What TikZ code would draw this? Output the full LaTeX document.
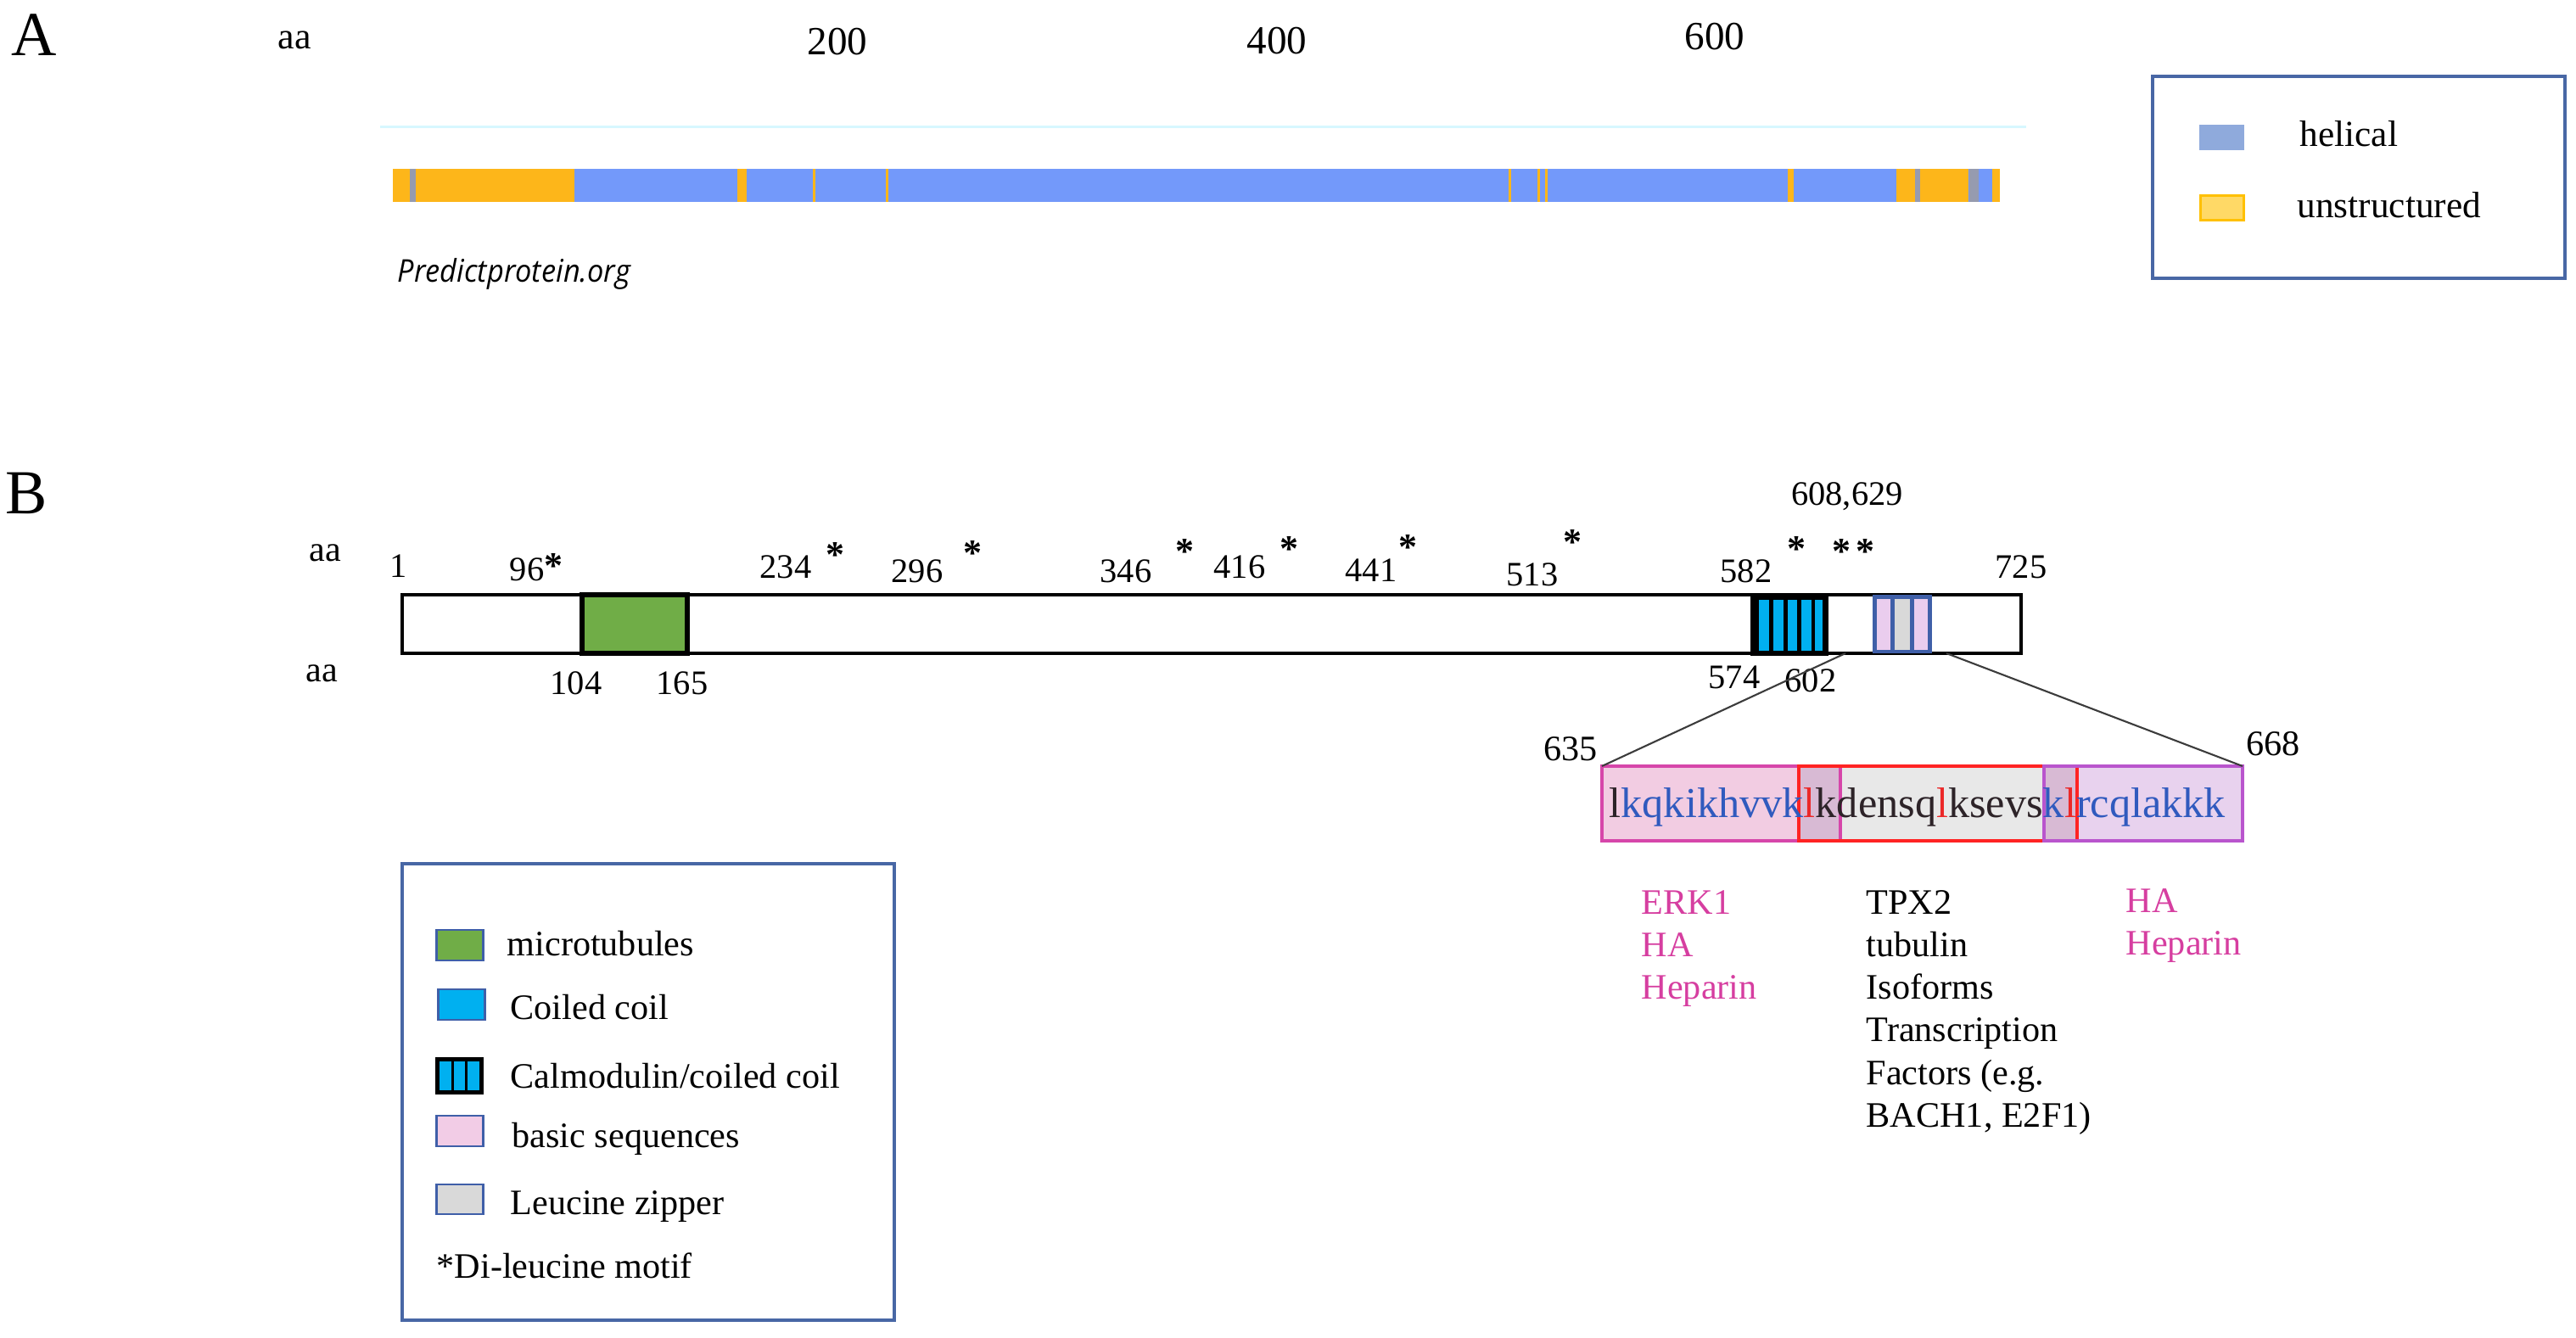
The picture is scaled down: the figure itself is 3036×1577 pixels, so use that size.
\documentclass[tikz,border=0pt]{standalone}
\usepackage{fontspec}
\setmainfont{Liberation Serif}
\newfontfamily\osans{Open Sans}
\definecolor{helblue}{RGB}{115,153,250}
\definecolor{unorange}{RGB}{253,182,26}
\definecolor{thingray}{RGB}{150,155,175}
\definecolor{legblue}{RGB}{72,103,165}
\definecolor{swhel}{RGB}{143,170,220}
\definecolor{swunfill}{RGB}{255,217,102}
\definecolor{swunborder}{RGB}{255,192,0}
\definecolor{mtgreen}{RGB}{112,173,71}
\definecolor{ccblue}{RGB}{0,176,240}
\definecolor{barpink}{RGB}{234,205,238}
\definecolor{legpink}{RGB}{242,204,230}
\definecolor{lzgray}{RGB}{217,217,217}
\definecolor{boxblue}{RGB}{63,95,168}
\definecolor{seqpink}{RGB}{242,204,226}
\definecolor{seqmag}{RGB}{214,70,170}
\definecolor{seqgray}{RGB}{232,232,232}
\definecolor{seqred}{RGB}{255,35,35}
\definecolor{seqlav}{RGB}{232,210,238}
\definecolor{seqpurp}{RGB}{185,85,205}
\definecolor{seqover}{RGB}{216,186,212}
\definecolor{seqblue}{RGB}{48,90,190}
\definecolor{seqredtxt}{RGB}{235,40,40}
\definecolor{seqdark}{RGB}{45,35,40}
\definecolor{labmag}{RGB}{214,62,160}
\definecolor{cyanline}{RGB}{215,247,255}
\definecolor{conn}{RGB}{60,60,60}
\begin{document}
\begin{tikzpicture}[x=0.01cm,y=-0.01cm,
  lab/.style={font=\fontsize{12}{14}\selectfont, inner sep=0pt},
  num/.style={font=\fontsize{11.5}{13}\selectfont, inner sep=0pt},
  axnum/.style={font=\fontsize{13.4}{15}\selectfont, inner sep=0pt},
  panel/.style={font=\fontsize{21}{25}\selectfont, inner sep=0pt},
  starlab/.style={font=\fontsize{12.5}{14}\selectfont\bfseries, inner sep=0pt, anchor=base},
  magtxt/.style={lab, text=labmag, anchor=base west},
  blktxt/.style={lab, anchor=base west},
  legframe/.style={draw=legblue, line width=1pt, fill=white},
  swatch/.style={draw=boxblue, line width=0.85pt},
  conline/.style={draw=conn, line width=0.6pt}]
\useasboundingbox (0,0) rectangle (3036,1577);

% ================= Panel A =================
\node[panel] (labA) at (40,41) {A};
\node[lab, font=\fontsize{12.5}{14}\selectfont] (aaA) at (347,47) {aa};
\node[axnum] (t200) at (987,49) {200};
\node[axnum] (t400) at (1505,48) {400};
\node[axnum] (t600) at (2021,43) {600};
\draw[cyanline, line width=0.85pt] (448,150) -- (2388,150);
% structure bar
\fill[helblue] (463,199) rectangle (2357,238);
\foreach \a/\b in {463/677, 869/880, 958/960.5, 1044/1046.5, 1778/1780.5, 1812/1814.5, 1821/1823.5, 2107/2114, 2235/2320, 2348/2357}
  \fill[unorange] (\a,199) rectangle (\b,238);
\foreach \a/\b in {483/490, 2257/2263, 2321/2332}
  \fill[thingray] (\a,199) rectangle (\b,238);
\node[anchor=base west, inner sep=0pt] (pp) at (468,333)
  {\scalebox{0.93}[1]{\osans\itshape\fontsize{10.5}{12}\selectfont Predictprotein.org}};
% legend A
\draw[legframe] (2537,90) rectangle (3023,328);
\fill[swhel] (2592,147) rectangle (2645,177);
\draw[fill=swunfill, draw=swunborder, line width=0.85pt] (2593,231) rectangle (2644,260);
\node[lab, anchor=base west, font=\fontsize{12.3}{14}\selectfont] (helical) at (2710,173) {helical};
\node[lab, anchor=base west, font=\fontsize{12.3}{14}\selectfont] (unstr) at (2707,257) {unstructured};

% ================= Panel B =================
\node[panel] (labB) at (31,581) {B};
\node[lab] (aaB1) at (383,652) {aa};
\node[lab] (aaB2) at (379,794) {aa};
% main bar
\draw[fill=white, line width=1.25pt] (474,701) rectangle (2382,770);
\draw[fill=mtgreen, line width=1.7pt] (686,701) rectangle (810,770);
% calmodulin / coiled coil
\fill[black] (2063,699) rectangle (2155,773);
\foreach \a/\b in {2073/2085, 2090/2102, 2107/2118, 2123/2135, 2139/2148}
  \fill[ccblue] (\a,707) rectangle (\b,767);
% basic / leucine zipper
\fill[boxblue] (2207,701) rectangle (2277,770);
\fill[barpink] (2212,706) rectangle (2228,766);
\fill[lzgray] (2233,706) rectangle (2251,766);
\fill[barpink] (2256,706) rectangle (2272,766);
% position numbers
\node[num] (n1) at (470,667) {1};
\node[num] (n96) at (621,671) {96};
\node[num] (n234) at (926,668) {234};
\node[num] (n296) at (1081,673) {296};
\node[num] (n346) at (1327,673) {346};
\node[num] (n416) at (1461,668) {416};
\node[num] (n441) at (1616,672) {441};
\node[num] (n513) at (1806,677) {513};
\node[num] (n582) at (2058,673) {582};
\node[num] (n725) at (2382,668) {725};
\node[num] (n608) at (2177,585) {608,629};
\node[num] (n104) at (679,805) {104};
\node[num] (n165) at (804,805) {165};
\node[num] (n574) at (2044,798) {574};
\node[num] (n602) at (2134,802) {602};
% di-leucine stars
\foreach \x/\y [count=\i] in {652/660, 984/647, 1146/645, 1396/643, 1519/640, 1659/638, 1853/632, 2117/640, 2170/643, 2198/643}
  \node[starlab] (star\i) at (\x,\y+22) {*};

% ================= zoomed sequence =================
\fill[seqpink] (1888,903) rectangle (2120,991);
\fill[seqover] (2120,903) rectangle (2169,991);
\fill[seqgray] (2169,903) rectangle (2409,991);
\fill[seqover] (2409,903) rectangle (2448,991);
\fill[seqlav] (2448,903) rectangle (2643,991);
\draw[seqmag, line width=0.9pt] (1888,903) rectangle (2169,991);
\draw[seqred, line width=1.2pt] (2120,903) rectangle (2448,991);
\draw[seqpurp, line width=0.9pt] (2409,903) rectangle (2643,991);
\coordinate (seqNW) at (1888,903);
\coordinate (seqNE) at (2643,903);
\node[anchor=base west, inner sep=0pt, font=\fontsize{14.3}{16}\selectfont] (seq) at (1896,964)
  {\textcolor{seqdark}{l}\textcolor{seqblue}{kqkikhvvk}\textcolor{seqredtxt}{l}\textcolor{seqdark}{kdensq}\textcolor{seqredtxt}{l}\textcolor{seqdark}{ksevs}\textcolor{seqblue}{k}\textcolor{seqredtxt}{l}\textcolor{seqblue}{rcqlakkk}};
\node[num, font=\fontsize{12}{14}\selectfont] (n635) at (1851,883) {635};
\node[num, font=\fontsize{12}{14}\selectfont] (n668) at (2679,877) {668};
% zoom connectors
\coordinate (zoomL) at (2175,770);
\coordinate (zoomR) at (2294,770);
\draw[conline] (zoomL) -- (seqNW);
\draw[conline] (zoomR) -- (seqNE);
% interaction partners
\node[magtxt] (erk) at (1934,1078) {ERK1};
\node[magtxt] (ha1) at (1934,1128) {HA};
\node[magtxt] (hep1) at (1934,1178) {Heparin};
\node[blktxt] (tpx) at (2199,1078) {TPX2};
\node[blktxt] (tub) at (2199,1128) {tubulin};
\node[blktxt] (iso) at (2199,1178) {Isoforms};
\node[blktxt] (trn) at (2199,1228) {Transcription};
\node[blktxt] (fac) at (2199,1278) {Factors (e.g.};
\node[blktxt] (bach) at (2199,1328) {BACH1, E2F1)};
\node[magtxt] (ha2) at (2505,1076) {HA};
\node[magtxt] (hep2) at (2505,1126) {Heparin};

% ================= legend B =================
\draw[legframe] (474,1018) rectangle (1054,1556);
\draw[swatch, fill=mtgreen] (514,1096) rectangle (569,1132);
\draw[swatch, fill=ccblue] (516,1166) rectangle (571,1202);
\fill[black] (513,1246) rectangle (570,1290);
\foreach \a/\b in {518/532, 535/548, 551/565}
  \fill[ccblue] (\a,1251) rectangle (\b,1285);
\draw[swatch, fill=legpink] (514,1315) rectangle (569,1351);
\draw[swatch, fill=lzgray] (514,1396) rectangle (569,1431);
\node[blktxt] (lmt) at (597,1127) {microtubules};
\node[blktxt] (lcc) at (601,1202) {Coiled coil};
\node[blktxt] (lcal) at (601,1283) {Calmodulin/coiled coil};
\node[blktxt] (lbas) at (603,1353) {basic sequences};
\node[blktxt] (llz) at (601,1431) {Leucine zipper};
\node[blktxt] (ldi) at (514,1506) {*Di-leucine motif};
\end{tikzpicture}
\end{document}
